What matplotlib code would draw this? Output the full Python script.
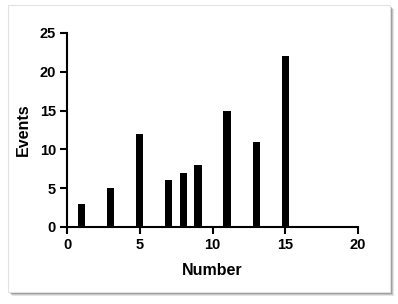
import matplotlib
matplotlib.use('Agg')
import matplotlib.pyplot as plt
from matplotlib.patches import Rectangle

# data
numbers = [1, 3, 5, 7, 8, 9, 11, 13, 15]
events = [3, 5, 12, 6, 7, 8, 15, 11, 22]

plt.rcParams['font.family'] = ['Liberation Sans', 'DejaVu Sans']
plt.rcParams['font.weight'] = 'bold'

W, H = 398, 304
fig = plt.figure(figsize=(W / 100, H / 100), dpi=100)
fig.patch.set_facecolor('white')

# card with soft drop shadow
x0, y0, x1, y1 = 8, 5, 390, 292
for i, a in enumerate([0.10, 0.14, 0.20, 0.28]):
    off = 4 - i
    fig.patches.append(Rectangle(((x0 + off) / W, 1 - (y1 + off) / H),
                                 (x1 - x0) / W, (y1 - y0) / H,
                                 transform=fig.transFigure, facecolor='black',
                                 edgecolor='none', alpha=a, zorder=-2))
fig.patches.append(Rectangle((x0 / W, 1 - y1 / H), (x1 - x0) / W, (y1 - y0) / H,
                             transform=fig.transFigure, facecolor='white',
                             edgecolor='#e2e2e2', linewidth=0.8, zorder=-1))

ax = fig.add_axes([67 / W, 1 - 227 / H, (358 - 67) / W, (227 - 33) / H])
ax.set_zorder(5)
ax.patch.set_alpha(0)
ax.bar(numbers, events, width=0.5, color='black')

ax.set_xlim(0, 20)
ax.set_ylim(0, 25)
ax.set_xticks([0, 5, 10, 15, 20])
ax.set_yticks([0, 5, 10, 15, 20, 25])
for s in ['top', 'right']:
    ax.spines[s].set_visible(False)
for s in ['left', 'bottom']:
    ax.spines[s].set_linewidth(1.5)
ax.tick_params(width=1.5, length=5, labelsize=10.5, pad=3)
for lbl in ax.get_xticklabels() + ax.get_yticklabels():
    lbl.set_fontweight('bold')

ax.set_xlabel('Number', fontsize=11.5, fontweight='bold', labelpad=8)
ax.set_ylabel('Events', fontsize=11.5, fontweight='bold', labelpad=6)

fig.savefig('out.png', dpi=100)
